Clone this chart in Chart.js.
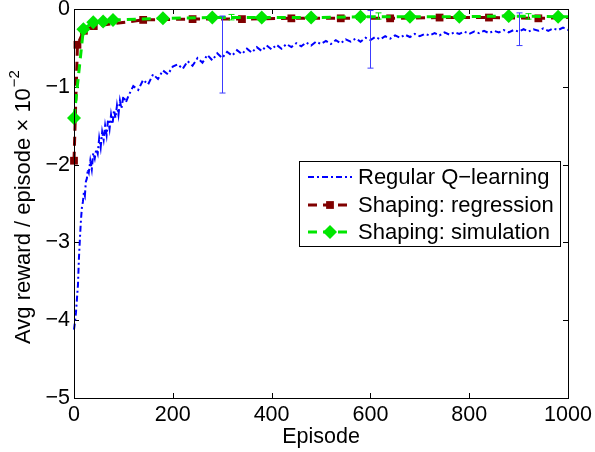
<!DOCTYPE html>
<html>
<head>
<meta charset="utf-8">
<script src="https://cdn.jsdelivr.net/npm/chart.js@4"></script>
<style>
  html, body { margin: 0; padding: 0; background: #fff; }
  canvas { display: block; }
</style>
</head>
<body>
<canvas id="grafico" width="595" height="452"></canvas>
<script>
// Dados (recompensa média por episódio, x 10^-2)
const blueEpisodes = [
  0, 2, 4, 6, 8, 10, 12, 14, 16, 18, 20, 22, 24, 26, 28, 30,
  33, 36, 39, 42, 45, 48, 51, 54, 57, 60, 63, 66, 69, 72, 75, 78, 81, 84, 87, 90, 93, 96,
  100, 105,
  110, 120, 130, 140, 150, 160, 170, 180, 190, 200,
  210, 220, 230, 240, 250, 260, 270, 280, 290, 300,
  310, 320, 330, 340, 350, 360, 370, 380, 390, 400,
  410, 420, 430, 440, 450, 460, 470, 480, 490, 500,
  510, 520, 530, 540, 550, 560, 570, 580, 590, 600,
  610, 620, 630, 640, 650, 660, 670, 680, 690, 700,
  710, 720, 730, 740, 750, 760, 770, 780, 790, 800,
  810, 820, 830, 840, 850, 860, 870, 880, 890, 900,
  910, 920, 930, 940, 950, 960, 970, 980, 990, 1000
];
const blueValues = [
  -4.12, -4.02, -3.90, -3.72, -3.55, -3.20, -2.95, -2.72, -2.55, -2.48, -2.36, -2.40, -2.22, -2.18, -2.06, -2.10,
  -1.95, -2.06, -1.85, -1.92, -1.80, -1.86, -1.66, -1.78, -1.58, -1.68, -1.50, -1.62, -1.42, -1.54, -1.36, -1.48, -1.30, -1.40, -1.24, -1.36, -1.18, -1.28,
  -1.12, -1.20,
  -1.12, -0.99, -1.04, -0.91, -0.97, -0.84, -0.90, -0.79, -0.84, -0.74,
  -0.71, -0.77, -0.67, -0.73, -0.63, -0.69, -0.59, -0.66, -0.57, -0.63,
  -0.55, -0.60, -0.53, -0.58, -0.51, -0.56, -0.49, -0.54, -0.47, -0.52,
  -0.46, -0.51, -0.45, -0.49, -0.44, -0.48, -0.43, -0.47, -0.42, -0.45,
  -0.41, -0.45, -0.40, -0.44, -0.39, -0.42, -0.38, -0.42, -0.37, -0.40,
  -0.36, -0.39, -0.35, -0.38, -0.34, -0.37, -0.33, -0.36, -0.32, -0.35,
  -0.32, -0.34, -0.31, -0.34, -0.30, -0.33, -0.30, -0.32, -0.29, -0.32,
  -0.29, -0.31, -0.28, -0.31, -0.28, -0.30, -0.27, -0.30, -0.27, -0.29,
  -0.26, -0.29, -0.26, -0.28, -0.25, -0.28, -0.25, -0.27, -0.24, -0.27
];

const redEpisodes = [0, 7, 20, 40, 140, 240, 340, 440, 540, 640, 740, 840, 940, 1000];
const redValues = [-1.95, -0.46, -0.28, -0.22, -0.14, -0.13, -0.13, -0.12, -0.12, -0.12, -0.11, -0.11, -0.12, -0.11];

const greenEpisodes = [0, 19, 39, 59, 79, 180, 280, 380, 480, 580, 680, 780, 880, 980, 1000];
const greenValues = [-1.40, -0.26, -0.17, -0.16, -0.14, -0.12, -0.11, -0.11, -0.11, -0.10, -0.10, -0.10, -0.09, -0.10, -0.10];

// Barras de erro
const blueErrEpisodes = [300, 600, 900];
const blueErrLow = [-1.08, -0.76, -0.47];
const blueErrHigh = [-0.09, -0.02, -0.05];
const greenErrEpisodes = [318, 615, 920];
const greenErrLow = [-0.14, -0.13, -0.13];
const greenErrHigh = [-0.07, -0.05, -0.06];

const xTicks = [0, 200, 400, 600, 800, 1000];
const yTicks = [-5, -4, -3, -2, -1, 0];

const legendLabels = ['Regular Q\u2212learning', 'Shaping: regression', 'Shaping: simulation'];
const yTitle = 'Avg reward / episode \u00d7 10';
const yTitleExp = '\u22122';

const CORES = {
  azul: '#0000ff',
  azulErro: '#3c3cff',
  vermelho: '#800000',
  verde: '#00e600',
};
const FONTE = "'Liberation Sans', Arial, Helvetica, sans-serif";

const toXY = (xs, ys) => xs.map((x, i) => ({ x, y: ys[i] }));
const menos = (v) => (v < 0 ? '\u2212' + Math.abs(v) : String(v));

// Fundo branco, caixa, ticks internos, barras de erro, título do eixo y e legenda
const moldura = {
  id: 'moldura',
  beforeDraw(chart) {
    const { ctx } = chart;
    ctx.save();
    ctx.fillStyle = '#fff';
    ctx.fillRect(0, 0, chart.width, chart.height);
    ctx.restore();
  },
  beforeDatasetsDraw(chart) {
    const { ctx, chartArea: a, scales: { x, y } } = chart;
    ctx.save();
    ctx.strokeStyle = '#000';
    ctx.lineWidth = 1;
    ctx.beginPath();
    xTicks.forEach((t) => {
      const px = Math.round(x.getPixelForValue(t)) + 0.5;
      ctx.moveTo(px, a.bottom); ctx.lineTo(px, a.bottom - 5);
      ctx.moveTo(px, a.top); ctx.lineTo(px, a.top + 5);
    });
    yTicks.forEach((t) => {
      const py = Math.round(y.getPixelForValue(t)) + 0.5;
      ctx.moveTo(a.left, py); ctx.lineTo(a.left + 5, py);
      ctx.moveTo(a.right, py); ctx.lineTo(a.right - 5, py);
    });
    ctx.stroke();
    ctx.restore();
  },
  afterDatasetsDraw(chart) {
    const { ctx, chartArea: a, scales: { x, y } } = chart;
    ctx.save();
    const barra = (ex, lo, hi, cor) => {
      ctx.strokeStyle = cor;
      ctx.lineWidth = 1;
      ctx.beginPath();
      ex.forEach((e, i) => {
        const px = Math.round(x.getPixelForValue(e)) + 0.5;
        const p1 = y.getPixelForValue(lo[i]);
        const p2 = y.getPixelForValue(hi[i]);
        ctx.moveTo(px, p1); ctx.lineTo(px, p2);
        ctx.moveTo(px - 3, p1); ctx.lineTo(px + 3, p1);
        ctx.moveTo(px - 3, p2); ctx.lineTo(px + 3, p2);
      });
      ctx.stroke();
    };
    barra(blueErrEpisodes, blueErrLow, blueErrHigh, CORES.azulErro);
    barra(greenErrEpisodes, greenErrLow, greenErrHigh, CORES.verde);

    // caixa do gráfico
    ctx.strokeStyle = '#000';
    ctx.lineWidth = 1;
    ctx.strokeRect(Math.round(a.left) + 0.5, Math.round(a.top) + 0.5,
      Math.round(a.right - a.left), Math.round(a.bottom - a.top));

    // título do eixo y com expoente
    const cy = (a.top + a.bottom) / 2 + 4;
    ctx.translate(24, cy);
    ctx.rotate(-Math.PI / 2);
    ctx.fillStyle = '#000';
    ctx.textBaseline = 'middle';
    ctx.textAlign = 'left';
    ctx.font = '22px ' + FONTE;
    const w1 = ctx.measureText(yTitle).width;
    ctx.font = '15px ' + FONTE;
    const w2 = ctx.measureText(yTitleExp).width;
    const x0 = -(w1 + w2) / 2;
    ctx.font = '22px ' + FONTE;
    ctx.fillText(yTitle, x0, 0);
    ctx.font = '15px ' + FONTE;
    ctx.fillText(yTitleExp, x0 + w1 + 1, -9);
    ctx.restore();

    // legenda
    ctx.save();
    const L = { x: 299, y: 161, w: 261, h: 85 };
    ctx.fillStyle = '#fff';
    ctx.fillRect(L.x, L.y, L.w, L.h);
    ctx.strokeStyle = '#000';
    ctx.lineWidth = 1;
    ctx.strokeRect(L.x + 0.5, L.y + 0.5, L.w, L.h);
    const linhas = [
      { cor: CORES.azul, dash: [6, 3, 2, 3], lw: 1.8, marca: null },
      { cor: CORES.vermelho, dash: [9, 6], lw: 3, marca: 'rect' },
      { cor: CORES.verde, dash: [9, 6], lw: 3, marca: 'rectRot' },
    ];
    const rowsY = [177, 205, 232];
    linhas.forEach((l, i) => {
      const ry = rowsY[i];
      ctx.strokeStyle = l.cor;
      ctx.lineWidth = l.lw;
      ctx.setLineDash(l.dash);
      ctx.beginPath();
      ctx.moveTo(308, ry); ctx.lineTo(352, ry);
      ctx.stroke();
      ctx.setLineDash([]);
      if (l.marca) {
        ctx.fillStyle = l.cor;
        Chart.helpers.drawPoint(ctx, { pointStyle: l.marca, radius: l.marca === 'rect' ? 5.5 : 7, borderWidth: 0 }, 330, ry);
      }
      ctx.fillStyle = '#000';
      ctx.font = '22px ' + FONTE;
      ctx.textBaseline = 'middle';
      ctx.fillText(legendLabels[i], 358, ry + 1);
    });
    ctx.restore();
  },
};

const ctx = document.getElementById('grafico');
new Chart(ctx, {
  type: 'line',
  data: {
    datasets: [
      {
        label: legendLabels[0],
        data: toXY(blueEpisodes, blueValues),
        borderColor: CORES.azul,
        borderWidth: 2,
        borderDash: [6, 3, 2, 3],
        pointRadius: 0,
        tension: 0,
        order: 3,
      },
      {
        label: legendLabels[1],
        data: toXY(redEpisodes, redValues),
        borderColor: CORES.vermelho,
        backgroundColor: CORES.vermelho,
        borderWidth: 3,
        borderDash: [9, 6],
        pointStyle: 'rect',
        pointRadius: (c) => (c.dataIndex === redEpisodes.length - 1 ? 0 : 5.5),
        pointBorderWidth: 0,
        tension: 0,
        order: 2,
      },
      {
        label: legendLabels[2],
        data: toXY(greenEpisodes, greenValues),
        borderColor: CORES.verde,
        backgroundColor: CORES.verde,
        borderWidth: 3,
        borderDash: [9, 6],
        pointStyle: 'rectRot',
        pointRadius: (c) => (c.dataIndex === greenEpisodes.length - 1 ? 0 : 7),
        pointBorderWidth: 0,
        tension: 0,
        order: 1,
      },
    ],
  },
  options: {
    responsive: false,
    animation: false,
    devicePixelRatio: 1,
    clip: false,
    layout: { padding: { top: 9, right: 27, left: 0, bottom: 0 } },
    plugins: {
      legend: { display: false },
      tooltip: { enabled: false },
    },
    scales: {
      x: {
        type: 'linear',
        min: 0,
        max: 1000,
        afterBuildTicks: (s) => { s.ticks = xTicks.map((v) => ({ value: v })); },
        afterFit: (s) => { s.height = 54; s.paddingLeft = 0; s.paddingRight = 0; },
        grid: { display: false, drawTicks: false },
        border: { display: false },
        ticks: { color: '#000', padding: 4, font: { family: FONTE, size: 21.5 }, maxRotation: 0, callback: (v) => String(v) },
        title: { display: true, text: 'Episode', color: '#000', font: { family: FONTE, size: 21.5 }, padding: { top: 0, bottom: 2 } },
      },
      y: {
        min: -5,
        max: 0,
        afterBuildTicks: (s) => { s.ticks = yTicks.map((v) => ({ value: v })); },
        afterFit: (s) => { s.width = 74; s.paddingTop = 0; s.paddingBottom = 0; },
        grid: { display: false, drawTicks: false },
        border: { display: false },
        ticks: { color: '#000', padding: 4, font: { family: FONTE, size: 21.5 }, callback: (v) => menos(v) },
      },
    },
  },
  plugins: [moldura],
});
</script>
</body>
</html>
